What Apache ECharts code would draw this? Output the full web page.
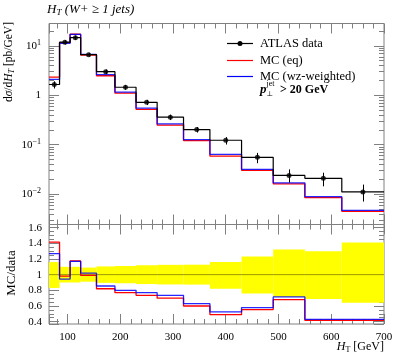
<!DOCTYPE html>
<html><head><meta charset="utf-8">
<script src="https://cdn.jsdelivr.net/npm/echarts@6/dist/echarts.min.js"></script>
<style>html,body{margin:0;padding:0;background:#fff}#c{width:397px;height:358px}</style>
</head><body><div id="c"></div>
<script>
// ---- data ----
const binEdges = [65, 85, 105, 125, 155, 190, 230, 270, 320, 370, 430, 490, 550, 620, 700];
const dataVals = [1.65, 11.8, 14.6, 6.6, 3.0, 1.45, 0.72, 0.36, 0.202, 0.123, 0.0556, 0.0240, 0.0209, 0.0111];
const dataErrUp = [0.16, 0.10, 0.10, 0.09, 0.105, 0.11, 0.12, 0.125, 0.127, 0.16, 0.23, 0.32, 0.30, 0.41];
const dataErrDown = [0.17, 0.10, 0.10, 0.09, 0.105, 0.11, 0.12, 0.125, 0.127, 0.18, 0.24, 0.285, 0.31, 0.36];
const mcEq = [2.33, 11.6, 17.1, 6.5, 2.48, 1.10, 0.52, 0.25, 0.121, 0.059, 0.0303, 0.0162, 0.0085, 0.0045];
const mcWz = [2.09, 11.2, 17.0, 6.7, 2.60, 1.16, 0.55, 0.265, 0.127, 0.064, 0.0318, 0.0170, 0.0089, 0.0047];
const ratioEq = [1.415, 0.982, 1.175, 0.99, 0.82, 0.77, 0.736, 0.70, 0.60, 0.49, 0.554, 0.68, 0.418, 0.418];
const ratioWz = [1.267, 0.944, 1.17, 1.02, 0.855, 0.80, 0.77, 0.736, 0.63, 0.524, 0.58, 0.715, 0.43, 0.43];
const xMinorTicks = [80, 120, 140, 160, 180, 220, 240, 260, 280, 320, 340, 360, 380, 420, 440, 460, 480, 520, 540, 560, 580, 620, 640, 660, 680];
const yMainMinorTicks = [0.003, 0.004, 0.005, 0.006, 0.007, 0.008, 0.009, 0.02, 0.03, 0.04, 0.05, 0.06, 0.07, 0.08, 0.09,
  0.2, 0.3, 0.4, 0.5, 0.6, 0.7, 0.8, 0.9, 2, 3, 4, 5, 6, 7, 8, 9, 20];
const yRatioMinorTicks = [0.45, 0.5, 0.55, 0.65, 0.7, 0.75, 0.85, 0.9, 0.95, 1.05, 1.1, 1.15, 1.25, 1.3, 1.35, 1.45, 1.5, 1.55];

// ---- style ----
const FONT = 'Liberation Serif';
const FRAME = '#808080';
const MAJ = 10, MIN = 5;
const X_MIN = binEdges[0], X_MAX = binEdges[binEdges.length - 1];
const Y_RANGES = [[0.00244, 28.2], [0.37, 1.64]];

function stepPts(vals) {
  const pts = vals.map((v, i) => [binEdges[i], v]);
  pts.push([binEdges[vals.length], vals[vals.length - 1]]);
  return pts;
}
const centers = dataVals.map((v, i) => (binEdges[i] + binEdges[i + 1]) / 2);
const errBars = dataVals.map((v, i) => [centers[i], v * (1 - dataErrDown[i]), v * (1 + dataErrUp[i])]);
const bandRects = dataVals.map((v, i) => [binEdges[i], binEdges[i + 1], 1 - dataErrDown[i], 1 + dataErrUp[i]]);

const labelBase = { color: '#000', fontFamily: FONT, fontSize: 11 };
const tickStyle = { color: FRAME, width: 1 };

// x axes per grid: bottom major, bottom minor, top major, top minor
function xAxes(g) {
  const out = [];
  [['bottom', true], ['bottom', false], ['top', true], ['top', false]].forEach((d, k) => {
    const tick = { show: true, inside: true, length: d[1] ? MAJ : MIN, lineStyle: tickStyle };
    if (!d[1]) tick.customValues = xMinorTicks;
    const label = (g === 1 && k === 0)
      ? Object.assign({ margin: 8, formatter: v => (Math.abs(v % 100) < 1e-6 ? String(v) : '') }, labelBase)
      : { show: false };
    out.push({ gridIndex: g, type: 'value', position: d[0], min: X_MIN, max: X_MAX, splitNumber: 6,
      minInterval: 100, maxInterval: 100, axisLine: { show: false, onZero: false }, splitLine: { show: false },
      axisTick: tick, axisLabel: label });
  });
  return out;
}
function mainYAxes() {
  const out = [];
  [['left', true], ['left', false], ['right', true], ['right', false]].forEach((d, k) => {
    const tick = { show: true, inside: true, length: d[1] ? MAJ : MIN, lineStyle: tickStyle };
    if (!d[1]) tick.customValues = yMainMinorTicks;
    const label = k === 0 ? Object.assign({ margin: 8,
      formatter: v => {
        const e = Math.log10(v), r = Math.round(e);
        if (Math.abs(e - r) > 1e-6) return '';
        if (r === 0) return '1';
        return '{b|10}{s|' + (r < 0 ? '\u2212' + (-r) : r) + '}';
      },
      rich: {
        b: { fontFamily: FONT, fontSize: 11, color: '#000', lineHeight: 14 },
        s: { fontFamily: FONT, fontSize: 8, color: '#000', lineHeight: 8, verticalAlign: 'top' }
      } }, labelBase) : { show: false };
    out.push({ gridIndex: 0, type: 'log', logBase: 10, position: d[0], min: Y_RANGES[0][0], max: Y_RANGES[0][1],
      axisLine: { show: false, onZero: false }, splitLine: { show: false }, axisTick: tick, axisLabel: label });
  });
  return out;
}
function ratioYAxes() {
  const out = [];
  [['left', true], ['left', false], ['right', true], ['right', false]].forEach((d, k) => {
    const tick = { show: true, inside: true, length: d[1] ? MAJ : MIN, lineStyle: tickStyle };
    if (!d[1]) tick.customValues = yRatioMinorTicks;
    const label = k === 0 ? Object.assign({ margin: 7,
      formatter: v => {
        const q = Math.round(v / 0.2);
        if (Math.abs(v - q * 0.2) > 1e-6) return '';
        const r = Math.round(v * 10) / 10;
        return r === 1 ? '1' : r.toFixed(1);
      } }, labelBase) : { show: false };
    out.push({ gridIndex: 1, type: 'value', position: d[0], min: Y_RANGES[1][0], max: Y_RANGES[1][1], splitNumber: 6,
      minInterval: 0.2, maxInterval: 0.2, axisLine: { show: false, onZero: false }, splitLine: { show: false },
      axisTick: tick, axisLabel: label });
  });
  return out;
}

const chart = echarts.init(document.getElementById('c'), null, { renderer: 'canvas' });

chart.setOption({
  animation: false,
  backgroundColor: '#fff',
  grid: [
    { left: 49, right: 13, top: 23.5, height: 201, show: true, borderColor: FRAME, borderWidth: 1, backgroundColor: 'transparent' },
    { left: 49, right: 13, top: 224.5, height: 99.5, show: true, borderColor: FRAME, borderWidth: 1, backgroundColor: 'transparent' }
  ],
  xAxis: xAxes(0).concat(xAxes(1)),
  yAxis: mainYAxes().concat(ratioYAxes()),
  series: [
    // main panel
    { type: 'line', xAxisIndex: 0, yAxisIndex: 0, step: 'end', showSymbol: false, silent: true,
      data: stepPts(mcEq), lineStyle: { color: '#ff0000', width: 1.3 }, z: 2 },
    { type: 'line', xAxisIndex: 0, yAxisIndex: 0, step: 'end', showSymbol: false, silent: true,
      data: stepPts(mcWz), lineStyle: { color: '#0000ff', width: 1.3, opacity: 0.85 }, z: 3 },
    { type: 'line', xAxisIndex: 0, yAxisIndex: 0, step: 'end', showSymbol: false, silent: true,
      data: stepPts(dataVals), lineStyle: { color: '#000', width: 1.2 }, z: 4 },
    { type: 'custom', xAxisIndex: 0, yAxisIndex: 0, silent: true, z: 5, data: errBars,
      renderItem: (params, api) => {
        const a = api.coord([api.value(0), api.value(1)]);
        const b = api.coord([api.value(0), api.value(2)]);
        const x = Math.round(a[0]) + 0.5;
        return { type: 'line', shape: { x1: x, y1: a[1], x2: x, y2: b[1] }, style: { stroke: '#000', lineWidth: 1 } };
      } },
    { type: 'scatter', xAxisIndex: 0, yAxisIndex: 0, silent: true, z: 6, symbolSize: 5,
      data: dataVals.map((v, i) => [centers[i], v]), itemStyle: { color: '#000' } },
    // ratio panel
    { type: 'custom', xAxisIndex: 4, yAxisIndex: 4, silent: true, z: 1, data: bandRects,
      renderItem: (params, api) => {
        const a = api.coord([api.value(0), api.value(3)]);
        const b = api.coord([api.value(1), api.value(2)]);
        return { type: 'rect', shape: { x: a[0], y: a[1], width: b[0] - a[0], height: b[1] - a[1] },
          style: { fill: '#ffff00' } };
      } },
    { type: 'line', xAxisIndex: 4, yAxisIndex: 4, showSymbol: false, silent: true, z: 2,
      data: [[X_MIN, 1], [X_MAX, 1]], lineStyle: { color: '#999900', width: 1 } },
    { type: 'line', xAxisIndex: 4, yAxisIndex: 4, step: 'end', showSymbol: false, silent: true, z: 3,
      data: stepPts(ratioEq), lineStyle: { color: '#ff0000', width: 1.3 } },
    { type: 'line', xAxisIndex: 4, yAxisIndex: 4, step: 'end', showSymbol: false, silent: true, z: 4,
      data: stepPts(ratioWz), lineStyle: { color: '#0000ff', width: 1.3, opacity: 0.85 } }
  ],
  graphic: [
    { type: 'text', x: 47, y: 10, silent: true, style: {
      text: '{h|H}{t|T}{h| (W+ \u2265 1 jets)}', verticalAlign: 'middle',
      rich: {
        h: { fontFamily: FONT, fontSize: 13, fontStyle: 'italic', fill: '#000', lineHeight: 15 },
        t: { fontFamily: FONT, fontSize: 9, fontStyle: 'italic', fill: '#000', lineHeight: 8, verticalAlign: 'bottom' }
      } } },
    { type: 'text', x: 9, y: 22, rotation: Math.PI / 2, silent: true, style: {
      text: '{d|d}{i|\u03c3}{d|/d}{i|H}{t|T}{d| [pb/GeV]}', align: 'right', verticalAlign: 'middle',
      rich: {
        d: { fontFamily: FONT, fontSize: 11.5, fill: '#000', lineHeight: 14 },
        i: { fontFamily: FONT, fontSize: 11.5, fontStyle: 'italic', fill: '#000', lineHeight: 14 },
        t: { fontFamily: FONT, fontSize: 8, fontStyle: 'italic', fill: '#000', lineHeight: 7, verticalAlign: 'bottom' }
      } } },
    { type: 'text', x: 12, y: 273, rotation: Math.PI / 2, silent: true, style: {
      text: 'MC/data', align: 'center', verticalAlign: 'middle', fontFamily: FONT, fontSize: 13, fill: '#000' } },
    { type: 'text', x: 384, y: 347, silent: true, style: {
      text: '{i|H}{t|T}{d| [GeV]}', align: 'right', verticalAlign: 'middle',
      rich: {
        d: { fontFamily: FONT, fontSize: 12, fill: '#000', lineHeight: 14 },
        i: { fontFamily: FONT, fontSize: 12, fontStyle: 'italic', fill: '#000', lineHeight: 14 },
        t: { fontFamily: FONT, fontSize: 8, fill: '#000', lineHeight: 7, verticalAlign: 'bottom' }
      } } },
    { type: 'line', silent: true, shape: { x1: 227, y1: 43.5, x2: 253, y2: 43.5 }, style: { stroke: '#000', lineWidth: 1.2 } },
    { type: 'circle', silent: true, shape: { cx: 240, cy: 43.5, r: 2.5 }, style: { fill: '#000' } },
    { type: 'text', x: 260, y: 43.5, silent: true, style: { text: 'ATLAS data', verticalAlign: 'middle', fontFamily: FONT, fontSize: 12.5, fill: '#000' } },
    { type: 'line', silent: true, shape: { x1: 227, y1: 60.5, x2: 253, y2: 60.5 }, style: { stroke: '#ff0000', lineWidth: 1.2 } },
    { type: 'text', x: 260, y: 60.5, silent: true, style: { text: 'MC (eq)', verticalAlign: 'middle', fontFamily: FONT, fontSize: 12.5, fill: '#000' } },
    { type: 'line', silent: true, shape: { x1: 227, y1: 76.5, x2: 253, y2: 76.5 }, style: { stroke: '#0000ff', lineWidth: 1.2 } },
    { type: 'text', x: 260, y: 76.5, silent: true, style: { text: 'MC (wz-weighted)', verticalAlign: 'middle', fontFamily: FONT, fontSize: 12.5, fill: '#000' } },
    { type: 'text', x: 260, y: 89.5, silent: true, style: { text: 'p', verticalAlign: 'middle', fontFamily: FONT, fontSize: 13, fontStyle: 'italic', fontWeight: 'bold', fill: '#000' } },
    { type: 'text', x: 266.5, y: 83.5, silent: true, style: { text: 'jet', verticalAlign: 'middle', fontFamily: FONT, fontSize: 8, fill: '#000' } },
    { type: 'text', x: 266.5, y: 94, silent: true, style: { text: '\u22a5', verticalAlign: 'middle', fontFamily: 'DejaVu Serif', fontSize: 7, fill: '#000' } },
    { type: 'text', x: 280, y: 89.5, silent: true, style: { text: '> 20 GeV', verticalAlign: 'middle', fontFamily: FONT, fontSize: 12, fontWeight: 'bold', fill: '#000' } }
  ]
});
</script>
</body></html>
